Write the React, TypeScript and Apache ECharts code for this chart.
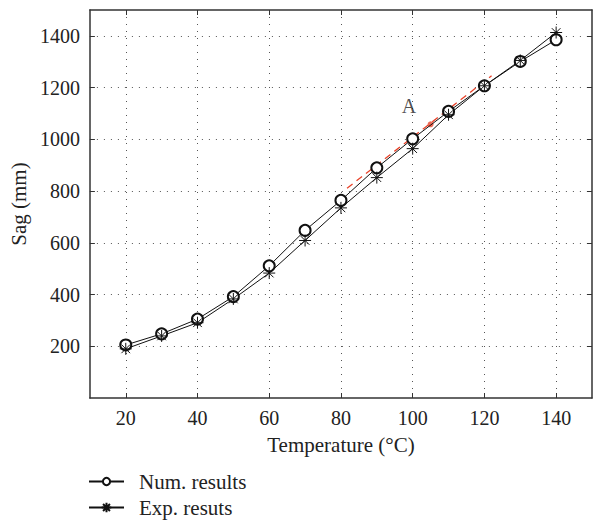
import React, { useEffect, useRef } from "react";
import * as echarts from "echarts";

const temperatures = [20, 30, 40, 50, 60, 70, 80, 90, 100, 110, 120, 130, 140];
const numResults = [205, 248, 305, 392, 511, 648, 764, 890, 1002, 1108, 1207, 1301, 1385];
const expResults = [190, 240, 291, 383, 483, 609, 735, 852, 964, 1095, 1207, 1305, 1413];
const xTicks = [20, 40, 60, 80, 100, 120, 140];
const yTicks = [200, 400, 600, 800, 1000, 1200, 1400];
const dashedLine = [[81.7, 811], [122, 1246]];
const redPoint = [[105, 1058]];
const labelA = [[99, 1127]];

const FONT = "'Liberation Serif', 'DejaVu Serif', serif";
const STAR = "path://M0,-1L0,1M-1,0L1,0M-0.72,-0.72L0.72,0.72M-0.72,0.72L0.72,-0.72";
const TXT = "#222";

export default function App() {
  const ref = useRef<HTMLDivElement>(null);
  useEffect(() => {
    document.body.style.margin = "0";
    const chart = echarts.init(ref.current!, null, { renderer: "svg" });
    const axisLine = { show: true, onZero: false, lineStyle: { color: "#333", width: 1.5 } };
    const splitLine = { show: true, lineStyle: { color: "#555", type: [1, 6], width: 1 } };
    const tick = (vals: number[]) => ({ show: true, inside: true, length: 5, customValues: vals, lineStyle: { color: "#333", width: 1 } });
    const legendBase = {
      orient: "horizontal",
      left: 88,
      padding: 0,
      itemWidth: 35,
      itemHeight: 9,
      textStyle: { fontFamily: FONT, fontSize: 21, color: TXT, padding: [0, 0, 0, 10] },
    };
    chart.setOption({
      animation: false,
      backgroundColor: "#fff",
      grid: { left: 89, right: 1, top: 10, bottom: 125, containLabel: false },
      legend: [
        { ...legendBase, top: 471, data: ["Num. results"] },
        { ...legendBase, top: 497, itemHeight: 12, data: ["Exp. resuts"] },
      ],
      xAxis: [
        {
          type: "value", min: 10, max: 150, position: "bottom",
          axisLine, splitLine: { ...splitLine }, axisTick: tick(xTicks),
          axisLabel: { customValues: xTicks, formatter: (v: number) => String(v), fontFamily: FONT, fontSize: 20, color: TXT, margin: 10 },
          name: "Temperature (°C)", nameLocation: "middle", nameGap: 36,
          nameTextStyle: { fontFamily: FONT, fontSize: 21, color: TXT },
        },
        {
          type: "value", min: 10, max: 150, position: "top",
          axisLine, splitLine: { show: false }, axisTick: tick(xTicks), axisLabel: { show: false },
        },
      ],
      yAxis: [
        {
          type: "value", min: 0, max: 1500, position: "left",
          axisLine, splitLine: { ...splitLine }, axisTick: tick(yTicks),
          axisLabel: { customValues: yTicks, formatter: (v: number) => String(v), fontFamily: FONT, fontSize: 20, color: TXT, margin: 10 },
          name: "Sag (mm)", nameLocation: "middle", nameGap: 52,
          nameTextStyle: { fontFamily: FONT, fontSize: 21, color: TXT },
        },
        {
          type: "value", min: 0, max: 1500, position: "right",
          axisLine, splitLine: { show: false }, axisTick: tick(yTicks), axisLabel: { show: false },
        },
      ],
      series: [
        {
          name: "red-dash", type: "line", data: dashedLine, symbol: "none", silent: true,
          lineStyle: { color: "#e8432a", type: [7, 5], width: 1.3 }, z: 1,
        },
        {
          name: "red-dot", type: "scatter", data: redPoint, symbolSize: 6, silent: true,
          itemStyle: { color: "#e8432a" }, z: 1,
        },
        {
          name: "label-a", type: "scatter", data: labelA, symbolSize: 0, silent: true,
          label: { show: true, position: "inside", formatter: "A", fontFamily: FONT, fontSize: 20, color: TXT },
        },
        {
          name: "Num. results", type: "line",
          data: temperatures.map((t, i) => [t, numResults[i]]),
          symbol: "emptyCircle", symbolSize: 11, showAllSymbol: true,
          lineStyle: { color: "#111", width: 1 },
          itemStyle: { color: "#111", borderColor: "#111", borderWidth: 1 },
          z: 3,
        },
        {
          name: "Exp. resuts", type: "line",
          data: temperatures.map((t, i) => [t, expResults[i]]),
          symbol: STAR, symbolSize: 12, showAllSymbol: true,
          lineStyle: { color: "#111", width: 1 },
          itemStyle: { color: "#111", borderColor: "#111", borderWidth: 1 },
          z: 3,
        },
      ],
    });
    return () => chart.dispose();
  }, []);
  return <div ref={ref} style={{ width: 593, height: 523 }} />;
}
